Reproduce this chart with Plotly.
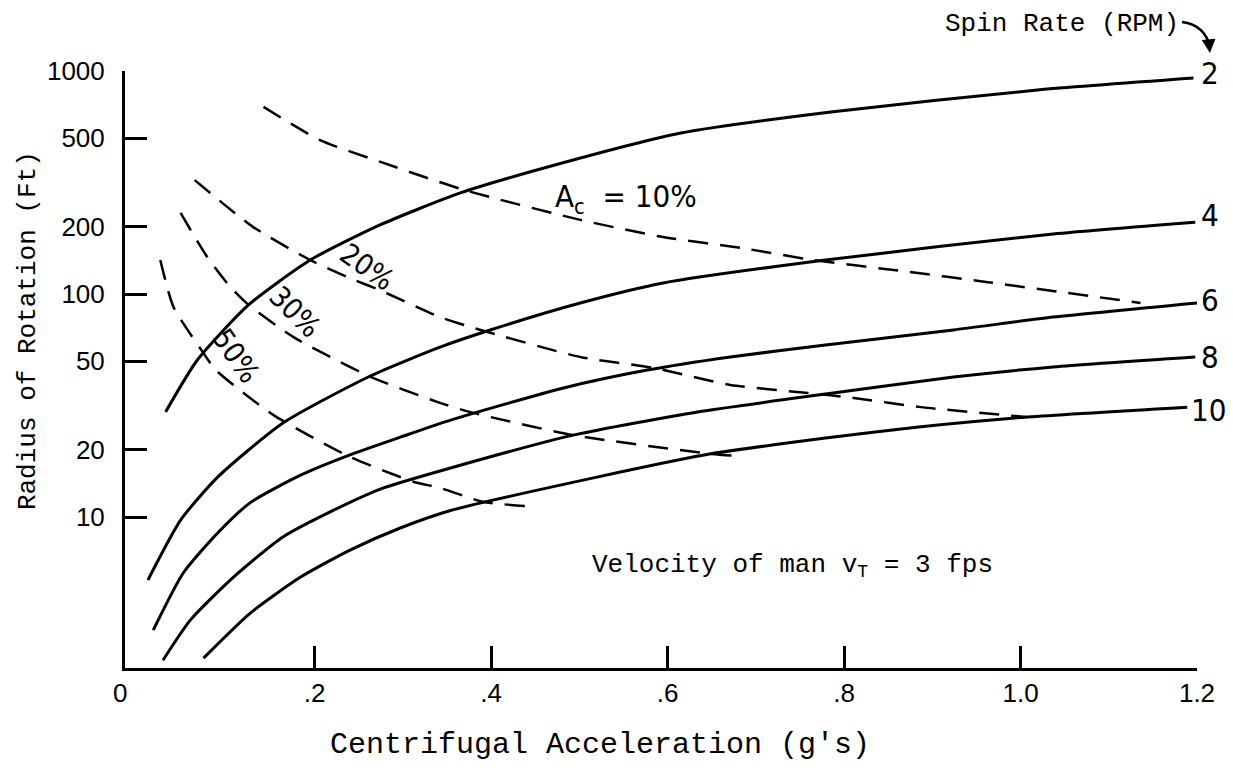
import math
import plotly.graph_objects as go

# Spin rate curves (RPM): centrifugal acceleration (g's) vs radius of rotation (ft)
rpm2_x = [0.031, 0.067, 0.125, 0.195, 0.274, 0.365, 0.464, 0.615, 0.785, 1.019, 1.196]
rpm2_y = [29.6, 50.6, 89.3, 142, 204, 284, 371, 527, 655, 822, 930]

rpm4_x = [0.011, 0.048, 0.090, 0.164, 0.263, 0.342, 0.399, 0.501, 0.595, 0.779, 1.037, 1.198]
rpm4_y = [5.22, 9.69, 15.1, 26.4, 42.9, 57.8, 69.0, 91.1, 112, 142, 186, 210]

rpm6_x = [0.017, 0.051, 0.090, 0.127, 0.184, 0.240, 0.297, 0.354, 0.482, 0.577, 0.671, 0.779, 0.924, 1.037, 1.2]
rpm6_y = [3.11, 5.61, 8.48, 11.6, 15.4, 19.0, 22.8, 27.2, 37.9, 45.6, 52.2, 59.1, 69.0, 78.8, 91.2]

rpm8_x = [0.028, 0.059, 0.108, 0.164, 0.221, 0.278, 0.354, 0.493, 0.634, 0.779, 0.924, 1.037, 1.198]
rpm8_y = [2.28, 3.45, 5.38, 8.13, 10.7, 13.5, 16.6, 23.3, 29.6, 35.6, 42.4, 47.1, 52.2]

rpm10_x = [0.074, 0.127, 0.184, 0.240, 0.297, 0.354, 0.520, 0.649, 0.779, 0.887, 1.008, 1.189]
rpm10_y = [2.33, 3.71, 5.38, 7.11, 8.93, 10.7, 15.1, 19.2, 22.6, 25.4, 28.1, 31.1]

# Coriolis ratio A_c curves (dashed)
ac10_x = [0.142, 0.206, 0.278, 0.369, 0.501, 0.595, 0.683, 0.765, 0.864, 0.963, 1.136]
ac10_y = [690, 490, 387, 293, 215, 180, 161, 142, 127, 113, 91.2]

ac20_x = [0.064, 0.130, 0.195, 0.244, 0.274, 0.342, 0.388, 0.501, 0.584, 0.671, 0.759, 0.811, 0.887, 1.006]
ac20_y = [324, 200, 142, 116, 104, 78.8, 69.0, 52.2, 46.6, 39.1, 36.0, 34.2, 31.1, 28.1]

ac30_x = [0.048, 0.078, 0.104, 0.125, 0.176, 0.261, 0.342, 0.380, 0.493, 0.649, 0.686]
ac30_y = [231, 147, 108, 89.3, 64.1, 42.9, 32.5, 29.3, 23.3, 19.2, 18.7]

ac50_x = [0.025, 0.040, 0.073, 0.088, 0.153, 0.240, 0.312, 0.342, 0.391, 0.439]
ac50_y = [142, 87.4, 55.0, 45.6, 28.7, 18.6, 14.4, 13.5, 11.7, 11.2]

spin_labels = ["2", "4", "6", "8", "10"]
spin_label_x = [1.2, 1.2, 1.2, 1.2, 1.189]
spin_label_y = [975, 226, 94, 52, 30.3]

x_tickvals = [0.2, 0.4, 0.6, 0.8, 1.0, 1.2]
x_ticktext = [".2", ".4", ".6", ".8", "1.0", "1.2"]
y_tickvals = [10, 20, 50, 100, 200, 500, 1000]
y_ticktext = ["10", "20", "50", "100", "200", "500", "1000"]

MONO = "Liberation Mono, DejaVu Sans Mono, monospace"
SANS = "Liberation Sans, Arial, sans-serif"
NARROW = "Liberation Sans Narrow, DejaVu Sans Condensed, Liberation Sans, sans-serif"


def ly(v):
    # annotations on a log axis take log10 positions
    return math.log10(v)


fig = go.Figure()

for xs, ys in [(rpm2_x, rpm2_y), (rpm4_x, rpm4_y), (rpm6_x, rpm6_y),
               (rpm8_x, rpm8_y), (rpm10_x, rpm10_y)]:
    fig.add_trace(go.Scatter(
        x=xs, y=ys, mode='lines',
        line=dict(color='black', width=3, shape='spline', smoothing=0.6),
        showlegend=False, hoverinfo='skip'
    ))

for xs, ys in [(ac10_x, ac10_y), (ac20_x, ac20_y), (ac30_x, ac30_y), (ac50_x, ac50_y)]:
    fig.add_trace(go.Scatter(
        x=xs, y=ys, mode='lines',
        line=dict(color='black', width=2.5, dash='20px,12px', shape='spline', smoothing=0.6),
        showlegend=False, hoverinfo='skip'
    ))

# curve labels at the right end
for lab, xv, yv in zip(spin_labels, spin_label_x, spin_label_y):
    fig.add_annotation(x=xv, y=ly(yv), text=lab, showarrow=False, xanchor='left',
                       yanchor='middle', xshift=2, font=dict(family=NARROW, size=31, color='black'))

# dashed curve labels
fig.add_annotation(x=0.4705, y=ly(267), text="A<sub>c</sub>&nbsp; = 10%", showarrow=False,
                   xanchor='left', yanchor='middle', font=dict(family=NARROW, size=31, color='black'))
fig.add_annotation(x=0.2596, y=ly(132), text="20%", showarrow=False, textangle=35,
                   font=dict(family=NARROW, size=29, color='black'))
fig.add_annotation(x=0.178, y=ly(83), text="30%", showarrow=False, textangle=45,
                   font=dict(family=NARROW, size=29, color='black'))
fig.add_annotation(x=0.111, y=ly(52.7), text="50%", showarrow=False, textangle=55,
                   font=dict(family=NARROW, size=29, color='black'))

fig.add_annotation(x=0.5125, y=ly(6.03), text="Velocity of man v<sub>T</sub> = 3 fps",
                   showarrow=False, xanchor='left', yanchor='middle',
                   font=dict(family=MONO, size=26, color='black'))

# header with curved arrow pointing to the 2 RPM curve label
fig.add_annotation(xref='paper', yref='paper', x=0.874, y=1.0787, text="Spin Rate (RPM)",
                   showarrow=False, xanchor='center', yanchor='middle',
                   font=dict(family=MONO, size=26, color='black'))
fig.add_shape(type='path', xref='paper', yref='paper',
              path="M 0.986,1.0821 Q 1.0075,1.0770 1.0121,1.0400",
              line=dict(color='black', width=2.5))
fig.add_annotation(xref='paper', yref='paper', x=1.0121, y=1.0300, text="",
                   showarrow=True, arrowhead=2, arrowsize=1.1, arrowwidth=2.5,
                   arrowcolor='black', ax=-1, ay=-10)

# axis titles and origin label
fig.add_annotation(xref='paper', yref='paper', x=0.443, y=-0.129,
                   text="Centrifugal Acceleration (g's)", showarrow=False,
                   xanchor='center', yanchor='middle',
                   font=dict(family=MONO, size=30, color='black'))
fig.add_annotation(xref='paper', yref='paper', x=-0.0905, y=0.566,
                   text="Radius of Rotation (Ft)", showarrow=False, textangle=-90,
                   xanchor='center', yanchor='middle',
                   font=dict(family=MONO, size=26, color='black'))
fig.add_annotation(xref='paper', yref='paper', x=-0.005, y=-0.042, text="0",
                   showarrow=False, xanchor='center', yanchor='middle',
                   font=dict(family=SANS, size=26, color='black'))

# page body has an 8px margin, so the margins are shifted to keep the plot area in place
fig.update_layout(
    width=1233, height=774,
    margin=dict(l=117, r=44, t=63, b=114),
    paper_bgcolor='white', plot_bgcolor='white',
    showlegend=False,
    xaxis=dict(
        range=[-0.015, 1.2], tickvals=x_tickvals, ticktext=x_ticktext,
        ticks='inside', ticklen=22, tickwidth=2.5, tickcolor='black',
        showline=True, linecolor='black', linewidth=3, showgrid=False, zeroline=False,
        tickfont=dict(family=SANS, size=26, color='black'), ticklabelstandoff=0
    ),
    yaxis=dict(
        type='log', range=[0.323, 3.0], tickvals=y_tickvals, ticktext=y_ticktext,
        ticks='inside', ticklen=22, tickwidth=2.5, tickcolor='black',
        showline=True, linecolor='black', linewidth=3, showgrid=False, zeroline=False,
        tickfont=dict(family=SANS, size=26, color='black'), ticklabelstandoff=12
    ),
)

fig.write_html("out.html")
